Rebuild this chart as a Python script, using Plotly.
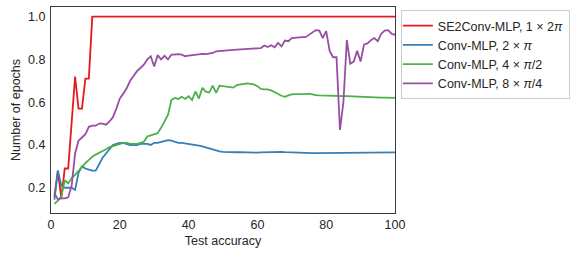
import plotly.graph_objects as go

x = list(range(1, 101))

se2conv_1x2pi = [0.16, 0.28, 0.15, 0.29, 0.29, 0.52, 0.72, 0.57, 0.57, 0.71, 0.71] + [1.0] * 89

conv_2xpi = [
    0.145, 0.28, 0.21, 0.20, 0.20, 0.20, 0.19, 0.27, 0.30, 0.29,
    0.285, 0.28, 0.28, 0.31, 0.34, 0.36, 0.38, 0.40, 0.405, 0.41,
    0.41, 0.405, 0.40, 0.40, 0.40, 0.405, 0.405, 0.405, 0.40, 0.41,
    0.41, 0.415, 0.42, 0.423, 0.42, 0.415, 0.41, 0.41, 0.408, 0.405,
    0.403, 0.40, 0.397, 0.393, 0.388, 0.383, 0.377, 0.373, 0.37, 0.368,
    0.367, 0.366, 0.366, 0.366, 0.367, 0.366, 0.365, 0.365, 0.364, 0.364,
    0.365, 0.366, 0.366, 0.367, 0.367, 0.367, 0.368, 0.367, 0.366, 0.366,
    0.366, 0.365, 0.365, 0.364, 0.363, 0.362, 0.362, 0.362, 0.362, 0.362,
    0.363, 0.363, 0.364, 0.364, 0.364, 0.364, 0.364, 0.364, 0.364, 0.363,
    0.363, 0.364, 0.364, 0.365, 0.365, 0.365, 0.365, 0.365, 0.365, 0.365,
]

conv_4xpi2 = [
    0.125, 0.14, 0.16, 0.235, 0.22, 0.245, 0.26, 0.28, 0.30, 0.315,
    0.33, 0.345, 0.355, 0.365, 0.372, 0.38, 0.39, 0.395, 0.40, 0.405,
    0.41, 0.41, 0.405, 0.405, 0.405, 0.41, 0.415, 0.44, 0.445, 0.45,
    0.455, 0.48, 0.51, 0.54, 0.61, 0.62, 0.615, 0.625, 0.615, 0.628,
    0.61, 0.65, 0.617, 0.667, 0.649, 0.645, 0.677, 0.644, 0.677, 0.675,
    0.672, 0.668, 0.668, 0.68, 0.683, 0.686, 0.688, 0.686, 0.683, 0.675,
    0.662, 0.66, 0.66, 0.655, 0.645, 0.638, 0.63, 0.625, 0.632, 0.637,
    0.638, 0.637, 0.637, 0.638, 0.64, 0.636, 0.633, 0.632, 0.631, 0.631,
    0.630, 0.630, 0.629, 0.629, 0.628, 0.628, 0.627, 0.627, 0.626, 0.625,
    0.624, 0.623, 0.623, 0.622, 0.622, 0.621, 0.621, 0.620, 0.620, 0.620,
]

conv_8xpi4 = [
    0.175, 0.145, 0.15, 0.15, 0.155, 0.21, 0.36, 0.42, 0.435, 0.45,
    0.485, 0.49, 0.49, 0.50, 0.50, 0.495, 0.51, 0.53, 0.57, 0.617,
    0.64, 0.665, 0.70, 0.725, 0.745, 0.76, 0.775, 0.80, 0.814, 0.767,
    0.82, 0.80, 0.817, 0.80, 0.822, 0.823, 0.825, 0.822, 0.815, 0.818,
    0.82, 0.822, 0.825, 0.826, 0.825, 0.828, 0.83, 0.838, 0.84, 0.842,
    0.843, 0.845, 0.845, 0.846, 0.847, 0.848, 0.849, 0.85, 0.852, 0.855,
    0.853, 0.865, 0.858, 0.866, 0.857, 0.877, 0.861, 0.888, 0.885, 0.90,
    0.902, 0.904, 0.904, 0.904, 0.915, 0.93, 0.937, 0.935, 0.90, 0.932,
    0.84, 0.81, 0.81, 0.47, 0.60, 0.89, 0.78, 0.79, 0.84, 0.79,
    0.87, 0.875, 0.89, 0.90, 0.885, 0.92, 0.935, 0.937, 0.92, 0.915,
]

names = [
    "SE2Conv-MLP, 1 × 2<i>π</i>",
    "Conv-MLP, 2 × <i>π</i>",
    "Conv-MLP, 4 × <i>π</i>/2",
    "Conv-MLP, 8 × <i>π</i>/4",
]
colors = ["#e41a1c", "#377eb8", "#4daf4a", "#984ea3"]
series = [se2conv_1x2pi, conv_2xpi, conv_4xpi2, conv_8xpi4]

x_ticks = [0, 20, 40, 60, 80, 100]
y_ticks = [0.2, 0.4, 0.6, 0.8, 1.0]

fig = go.Figure()
for name, color, ys in zip(names, colors, series):
    fig.add_trace(go.Scatter(x=x, y=ys, mode="lines", name=name,
                             line=dict(color=color, width=1.8)))

axis_common = dict(showline=True, mirror=True, linecolor="#3a3a3a", linewidth=1.1,
                   showgrid=False, zeroline=False, ticks="", automargin=False,
                   tickfont=dict(size=12.5, color="#262626"))

fig.update_layout(
    width=581, height=259,
    margin=dict(l=51, r=186, t=7, b=46, autoexpand=False),
    paper_bgcolor="white", plot_bgcolor="white",
    font=dict(family="Liberation Sans, Arial, sans-serif", size=12.5, color="#262626"),
    xaxis=dict(range=[0, 100], tickvals=x_ticks, ticktext=[str(t) for t in x_ticks],
               title=dict(text="Test accuracy", font=dict(size=12.5), standoff=5),
               **axis_common),
    yaxis=dict(range=[0.082, 1.045], tickvals=y_ticks, ticktext=[f"{t:.1f}" for t in y_ticks],
               ticklabelstandoff=2,
               title=dict(text="Number of epochs", font=dict(size=12.5), standoff=4),
               **axis_common),
    legend=dict(x=1.017, y=0.985, xanchor="left", yanchor="top",
                bordercolor="#cccccc", borderwidth=1, bgcolor="white",
                font=dict(size=12.5), tracegroupgap=0, indentation=-4),
    showlegend=True,
)

fig.write_html("out.html", config={"displayModeBar": False},
               post_script="document.body.style.margin='0';")
